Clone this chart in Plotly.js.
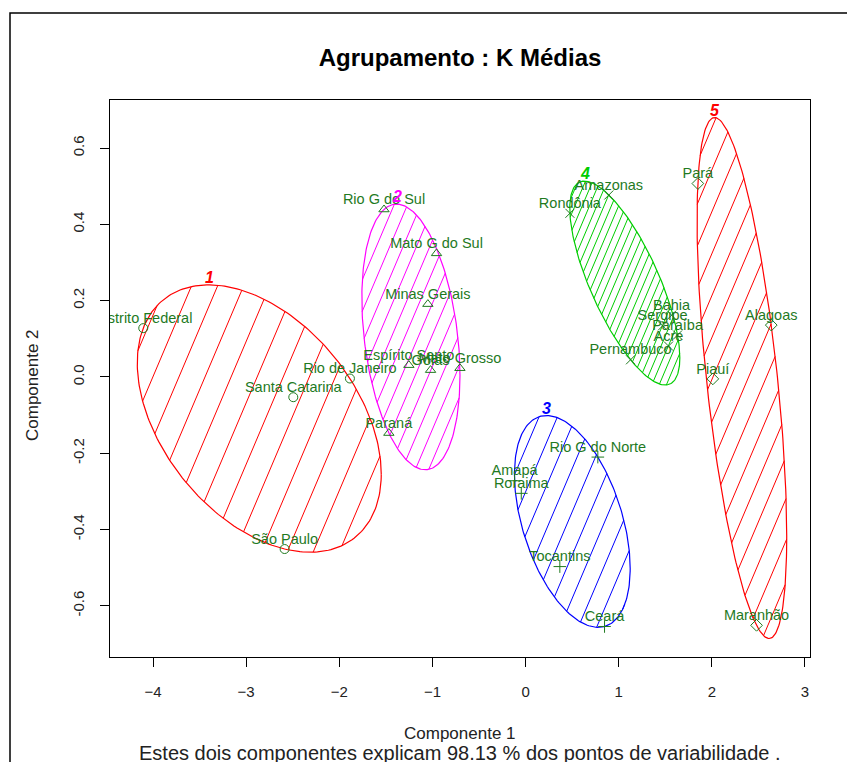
<!DOCTYPE html>
<html><head><meta charset="utf-8">
<script src="https://cdn.plot.ly/plotly-3.0.1.min.js"></script>
<style>body{margin:0;background:#fff}#chart{width:847px;height:762px}</style>
</head><body><div id="chart"></div>
<script>
// ---- data (principal components of each state) ----
const states = ["Distrito Federal","Santa Catarina","Rio de Janeiro","São Paulo",
 "Rio G do Sul","Mato G do Sul","Minas Gerais","Espírito Santo","Goiás","Mato Grosso","Paraná",
 "Rio G do Norte","Amapá","Roraima","Tocantins","Ceará",
 "Amazonas","Rondônia","Bahia","Sergipe","Paraíba","Acre","Pernambuco",
 "Pará","Alagoas","Piauí","Maranhão"];
const comp1 = [-4.105,-2.494,-1.886,-2.587,
 -1.520,-0.956,-1.049,-1.253,-1.020,-0.705,-1.468,
 0.776,-0.118,-0.046,0.368,0.848,
 0.894,0.476,1.568,1.471,1.632,1.535,1.127,
 1.850,2.638,2.011,2.480];
const comp2 = [0.128,-0.053,-0.004,-0.451,
 0.439,0.324,0.191,0.031,0.018,0.023,-0.147,
 -0.210,-0.272,-0.305,-0.497,-0.654,
 0.477,0.429,0.162,0.134,0.110,0.081,0.045,
 0.507,0.136,-0.005,-0.651];
const cluster = [1,1,1,1, 2,2,2,2,2,2,2, 3,3,3,3,3, 4,4,4,4,4,4,4, 5,5,5,5];
const clusterIds = [1,2,3,4,5];
const xTicks = [-4,-3,-2,-1,0,1,2,3];
const yTicks = [-0.6,-0.4,-0.2,0,0.2,0.4,0.6];
const yTickText = ["-0.6","-0.4","-0.2","0.0","0.2","0.4","0.6"];
const titleText = "Agrupamento : K Médias";
const xTitle = "Componente 1";
const yTitle = "Componente 2";
const subText = "Estes dois componentes explicam 98.13 % dos pontos de variabilidade .";

// ---- styles ----
const clusColor = {1:"#FF0000",2:"#FF00FF",3:"#0000FF",4:"#00CD00",5:"#FF0000"};
const clusSymbol = {1:"circle-open",2:"triangle-up-open",3:"cross-thin-open",4:"x-thin-open",5:"diamond-open"};
const hatchSpacing = {1:24,2:12.3,3:16.9,4:6.7,5:16.4};
const hatchAngle = 67;
const ptColor = "#1f7a1f";
const FONT = "Liberation Sans, Arial, sans-serif";
const labelOffsetPx = 9;

const W=847,H=762, M={l:110,r:37,t:100,b:105};
const XR=[-4.462,3.054], YR=[-0.734,0.726];
const PW=W-M.l-M.r, PH=H-M.t-M.b;
const toPx = (x,y)=>[M.l+(x-XR[0])/(XR[1]-XR[0])*PW, M.t+(YR[1]-y)/(YR[1]-YR[0])*PH];
const toData = (px,py)=>[XR[0]+(px-M.l)/PW*(XR[1]-XR[0]), YR[1]-(py-M.t)/PH*(YR[1]-YR[0])];

function inv3(m){
  const [a,b,c]=m[0],[d,e,f]=m[1],[g,h,i]=m[2];
  const A=e*i-f*h,B=-(d*i-f*g),C=d*h-e*g;
  const det=a*A+b*B+c*C;
  return [[A/det,-(b*i-c*h)/det,(b*f-c*e)/det],
          [B/det,(a*i-c*g)/det,-(a*f-c*d)/det],
          [C/det,-(a*h-b*g)/det,(a*e-b*d)/det]];
}
// minimum volume enclosing ellipse (Khachiyan), like cluster::ellipsoidhull
function mvee(P){
  const n=P.length; let u=new Array(n).fill(1/n);
  const Q=P.map(p=>[p[0],p[1],1]);
  for(let it=0;it<50000;it++){
    const X=[[0,0,0],[0,0,0],[0,0,0]];
    for(let k=0;k<n;k++)for(let a=0;a<3;a++)for(let b=0;b<3;b++)X[a][b]+=u[k]*Q[k][a]*Q[k][b];
    const Xi=inv3(X);
    let maxM=-1,j=0;
    Q.forEach((q,k)=>{let s=0;for(let a=0;a<3;a++)for(let b=0;b<3;b++)s+=q[a]*Xi[a][b]*q[b]; if(s>maxM){maxM=s;j=k;}});
    const step=(maxM-3)/(3*(maxM-1));
    if(step<1e-10)break;
    u=u.map(v=>v*(1-step)); u[j]+=step;
  }
  let cx=0,cy=0; P.forEach((p,k)=>{cx+=u[k]*p[0];cy+=u[k]*p[1];});
  let sxx=0,sxy=0,syy=0;
  P.forEach((p,k)=>{sxx+=u[k]*(p[0]-cx)**2;sxy+=u[k]*(p[0]-cx)*(p[1]-cy);syy+=u[k]*(p[1]-cy)**2;});
  const det=sxx*syy-sxy*sxy;
  let d2=0;
  P.forEach(p=>{const dx=p[0]-cx,dy=p[1]-cy; const m=(syy*dx*dx-2*sxy*dx*dy+sxx*dy*dy)/det; if(m>d2)d2=m;});
  const a=sxx*d2,b=sxy*d2,c=syy*d2;
  const l11=Math.sqrt(a), l21=b/l11, l22=Math.sqrt(c-l21*l21);
  const pts=[];
  for(let k=0;k<=240;k++){const t=2*Math.PI*k/240; const ct=Math.cos(t),st=Math.sin(t);
    pts.push([cx+l11*ct, cy+l21*ct+l22*st]);}
  return pts;
}
function hatch(poly, spacing, angDeg){
  const th=angDeg*Math.PI/180, nx=Math.sin(th), ny=Math.cos(th);
  const pp=poly.map(p=>toPx(p[0],p[1]));
  const s=pp.map(p=>p[0]*nx+p[1]*ny);
  const smin=Math.min(...s), smax=Math.max(...s);
  const xs=[],ys=[];
  for(let v=Math.ceil(smin/spacing)*spacing; v<smax; v+=spacing){
    const hits=[];
    for(let k=0;k<pp.length-1;k++){
      const s0=s[k],s1=s[k+1];
      if((v-s0)*(v-s1)<0){const t=(v-s0)/(s1-s0); hits.push([pp[k][0]+t*(pp[k+1][0]-pp[k][0]), pp[k][1]+t*(pp[k+1][1]-pp[k][1])]);}
    }
    if(hits.length>=2){
      const a=toData(...hits[0]), b=toData(...hits[1]);
      xs.push(a[0],b[0],null); ys.push(a[1],b[1],null);
    }
  }
  return [xs,ys];
}

const traces=[], annotations=[];
clusterIds.forEach(cid=>{
  const P=[]; cluster.forEach((c,i)=>{if(c===cid)P.push([comp1[i],comp2[i]]);});
  const ell=mvee(P);
  const [hx,hy]=hatch(ell,hatchSpacing[cid],hatchAngle);
  traces.push({type:"scatter",mode:"lines",x:hx,y:hy,line:{color:clusColor[cid],width:1},hoverinfo:"skip",showlegend:false});
  traces.push({type:"scatter",mode:"lines",x:ell.map(p=>p[0]),y:ell.map(p=>p[1]),line:{color:clusColor[cid],width:1.2},hoverinfo:"skip",showlegend:false});
  let top=ell[0]; ell.forEach(p=>{if(p[1]>top[1])top=p;});
  annotations.push({x:top[0],y:top[1],xref:"x",yref:"y",text:String(cid),showarrow:false,yanchor:"bottom",yshift:-3,
    font:{family:FONT,size:16,color:clusColor[cid],style:"italic",weight:"bold"}});
});
traces.push({type:"scatter",mode:"markers",x:comp1,y:comp2,cliponaxis:true,
  marker:{symbol:cluster.map(c=>clusSymbol[c]),size:9,color:ptColor,line:{color:ptColor,width:1}},
  showlegend:false});
const dyLabel = labelOffsetPx/PH*(YR[1]-YR[0]);
traces.push({type:"scatter",mode:"text",x:comp1,y:comp2.map(v=>v+dyLabel),text:states,textposition:"middle center",
  cliponaxis:true,textfont:{family:FONT,size:14.5,color:ptColor},showlegend:false});

const py2paper = py => (H-M.b-py)/PH;
const px2paper = px => (px-M.l)/PW;
annotations.push({xref:"paper",yref:"paper",x:0.5,y:py2paper(733),text:xTitle,showarrow:false,yanchor:"middle",
  font:{family:FONT,size:17,color:"#222"}});
annotations.push({xref:"paper",yref:"paper",x:0.5,y:py2paper(753),text:subText,showarrow:false,yanchor:"middle",
  font:{family:FONT,size:20,color:"#222"}});
annotations.push({xref:"paper",yref:"paper",x:px2paper(32),y:py2paper(385),text:yTitle,showarrow:false,textangle:-90,
  xanchor:"center",yanchor:"middle",font:{family:FONT,size:17,color:"#222"}});

const layout={
  width:W,height:H,margin:{l:M.l,r:M.r,t:M.t,b:M.b},
  paper_bgcolor:"#fff",plot_bgcolor:"#fff",showlegend:false,
  title:{text:"<b>"+titleText+"</b>",x:0.5,xref:"paper",y:1-58/H,yref:"container",yanchor:"middle",
    font:{family:FONT,size:24,color:"#000"}},
  xaxis:{range:XR,tickvals:xTicks,ticks:"outside",ticklen:9,tickcolor:"#000",showline:true,mirror:true,
    linecolor:"#000",linewidth:1,showgrid:false,zeroline:false,ticklabelstandoff:12,
    tickfont:{family:FONT,size:15,color:"#222"}},
  yaxis:{range:YR,tickvals:yTicks,ticktext:yTickText,tickangle:-90,ticks:"outside",ticklen:9,tickcolor:"#000",
    showline:true,mirror:true,linecolor:"#000",linewidth:1,showgrid:false,zeroline:false,ticklabelstandoff:10,
    tickfont:{family:FONT,size:15,color:"#222"}},
  annotations:annotations,
  shapes:[{type:"rect",xref:"paper",yref:"paper",x0:px2paper(10),x1:2,y0:-1,y1:py2paper(13),
    line:{color:"#000",width:1.5},fillcolor:"rgba(0,0,0,0)",layer:"above"}]
};
Plotly.newPlot("chart",traces,layout,{staticPlot:true});
</script></body></html>
